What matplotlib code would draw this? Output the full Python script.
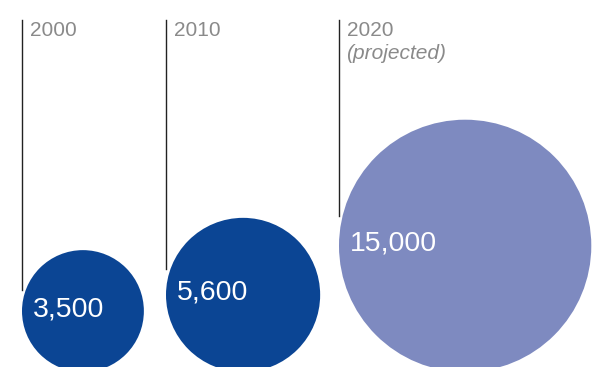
import numpy as np
import matplotlib.pyplot as plt
from matplotlib.patches import Circle

# ── DATA ──────────────────────────────────────────────────────────────────────
years    = ["2000", "2010", "2020"]
notes    = ["", "", "(projected)"]
values   = [3500, 5600, 15000]
labels   = ["3,500", "5,600", "15,000"]
colours  = ["#0b4594", "#0b4594", "#7e8ac0"]
# ─────────────────────────────────────────────────────────────────────────────

W, H = 592, 367
SCALE = 1.03          # px radius per sqrt(value)  → circle area ∝ value
left_edges = [22, 166, 339]
base_y     = 372      # circles sit slightly below the bottom edge
line_top   = 20
line_drop  = [0.35, 0.34, 0.24]

plt.rcParams["font.family"] = ["Liberation Sans", "DejaVu Sans"]

fig = plt.figure(figsize=(W / 100, H / 100), dpi=100)
ax = fig.add_axes([0, 0, 1, 1])
ax.set_xlim(0, W)
ax.set_ylim(H, 0)
ax.axis("off")

for i, v in enumerate(values):
    r  = SCALE * np.sqrt(v)
    x0 = left_edges[i]
    cx = x0 + r
    cy = base_y - r
    ax.add_patch(Circle((cx, cy), r, facecolor=colours[i], edgecolor="none"))

    # year marker line and label
    ax.plot([x0, x0], [line_top, cy - line_drop[i] * r], color="#222222", lw=1)
    ax.text(x0 + 8, 21, years[i], fontsize=15, color="#8a8a8a", va="top", ha="left")
    if notes[i]:
        ax.text(x0 + 7, 44, notes[i], fontsize=15, color="#8a8a8a",
                style="italic", va="top", ha="left")

    ax.text(x0 + 11, cy - 2, labels[i], fontsize=20.5, color="white",
            va="center", ha="left")

fig.savefig("out.png", dpi=100)
